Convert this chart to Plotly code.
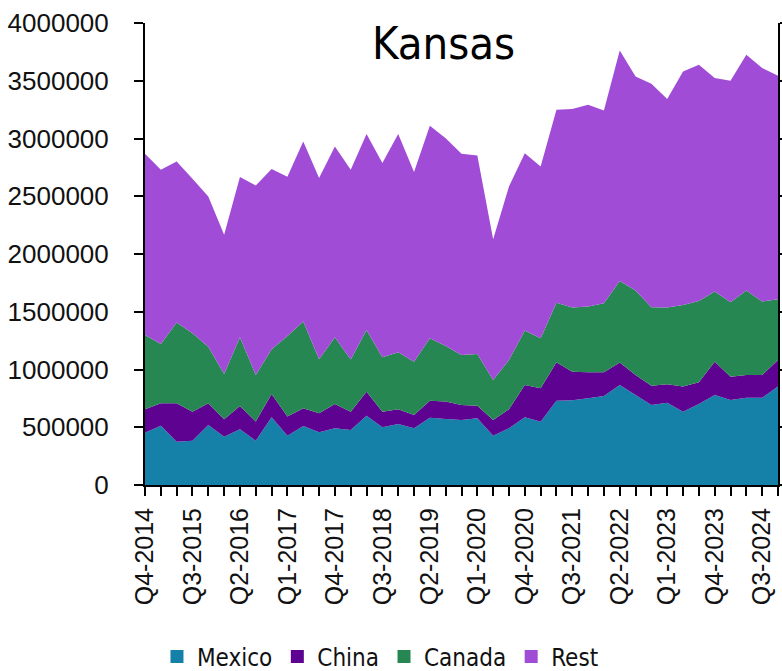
import plotly.graph_objects as go

# Quarterly exports by destination (USD)
quarters = [
    "Q4-2014", "Q1-2015", "Q2-2015", "Q3-2015", "Q4-2015",
    "Q1-2016", "Q2-2016", "Q3-2016", "Q4-2016",
    "Q1-2017", "Q2-2017", "Q3-2017", "Q4-2017",
    "Q1-2018", "Q2-2018", "Q3-2018", "Q4-2018",
    "Q1-2019", "Q2-2019", "Q3-2019", "Q4-2019",
    "Q1-2020", "Q2-2020", "Q3-2020", "Q4-2020",
    "Q1-2021", "Q2-2021", "Q3-2021", "Q4-2021",
    "Q1-2022", "Q2-2022", "Q3-2022", "Q4-2022",
    "Q1-2023", "Q2-2023", "Q3-2023", "Q4-2023",
    "Q1-2024", "Q2-2024", "Q3-2024", "Q4-2024",
]

mexico = [
    453000, 514000, 375000, 384000, 520000, 418000, 483000, 384000, 586000,
    427000, 511000, 457000, 491000, 476000, 600000, 500000, 528000, 491000,
    583000, 572000, 563000, 578000, 427000, 491000, 586000, 548000, 730000,
    733000, 751000, 771000, 866000, 780000, 693000, 713000, 635000, 702000,
    780000, 736000, 756000, 756000, 852000,
]
china = [
    203000, 194000, 333000, 251000, 188000, 151000, 201000, 165000, 202000,
    165000, 153000, 164000, 211000, 159000, 208000, 135000, 128000, 115000,
    147000, 150000, 130000, 109000, 136000, 165000, 280000, 290000, 333000,
    247000, 225000, 205000, 194000, 173000, 167000, 159000, 217000, 187000,
    288000, 202000, 197000, 197000, 231000,
]
canada = [
    643000, 513000, 698000, 679000, 490000, 393000, 595000, 404000, 388000,
    699000, 751000, 468000, 577000, 451000, 535000, 471000, 494000, 462000,
    541000, 482000, 433000, 448000, 347000, 427000, 471000, 433000, 516000,
    557000, 569000, 598000, 707000, 730000, 679000, 664000, 707000, 705000,
    607000, 645000, 730000, 635000, 526000,
]
rest = [
    1568000, 1508000, 1395000, 1337000, 1300000, 1204000, 1387000, 1640000,
    1559000, 1377000, 1559000, 1568000, 1652000, 1643000, 1695000, 1681000,
    1888000, 1641000, 1839000, 1799000, 1741000, 1718000, 1218000, 1501000,
    1536000, 1487000, 1670000, 1718000, 1747000, 1669000, 1995000, 1854000,
    1935000, 1805000, 2021000, 2044000, 1848000, 1917000, 2042000, 2022000,
    1934000,
]

series_names = ["Mexico", "China", "Canada", "Rest"]
series_values = [mexico, china, canada, rest]
series_colors = ["#1580A8", "#5E0391", "#278752", "#A04CD7"]

# every quarter gets a tick; every third quarter gets a label
tick_text = [q if i % 3 == 0 else "" for i, q in enumerate(quarters)]

condensed = "DejaVu Sans Condensed, Liberation Sans, sans-serif"
regular = "Liberation Sans, Arial, sans-serif"

fig = go.Figure()

for name, vals, col in zip(series_names, series_values, series_colors):
    fig.add_trace(go.Scatter(
        x=quarters, y=vals, name=name,
        mode="none", stackgroup="one",
        fillcolor=col, showlegend=False,
        legendgroup=name,
    ))

# square legend swatches
for name, col in zip(series_names, series_colors):
    fig.add_trace(go.Scatter(
        x=[None], y=[None], name=name, mode="markers",
        marker=dict(symbol="square", size=13, color=col),
        legendgroup=name, showlegend=True,
    ))

fig.update_layout(
    width=782, height=671,
    margin=dict(l=145, r=4, t=23, b=186, autoexpand=False),
    paper_bgcolor="white", plot_bgcolor="white",
    showlegend=True,
    legend=dict(
        orientation="h", x=0.372, xanchor="center",
        y=-0.372, yanchor="middle",
        font=dict(family=condensed, size=24, color="#111111"),
        itemwidth=30, tracegroupgap=0,
    ),
    annotations=[dict(
        text="Kansas", xref="paper", yref="paper",
        x=0.4708, y=1.018, xanchor="center", yanchor="top",
        showarrow=False,
        font=dict(family=condensed, size=45, color="black"),
    )],
)

fig.update_xaxes(
    type="category", range=[0, len(quarters) - 1],
    tickmode="array", tickvals=quarters, ticktext=tick_text,
    tickangle=-90, ticks="outside", ticklen=9, tickwidth=1.5,
    tickcolor="black", showline=True, linecolor="black", linewidth=2,
    showgrid=False, zeroline=False, mirror=False,
    tickfont=dict(family=regular, size=25, color="#111111"),
    ticklabelstandoff=2,
)
fig.update_yaxes(
    range=[0, 4000000], tickmode="linear", tick0=0, dtick=500000,
    tickformat="d", ticks="outside", ticklen=9, tickwidth=1.5,
    tickcolor="black", showline=True, linecolor="black", linewidth=2,
    mirror="ticks", showgrid=False, zeroline=False,
    tickfont=dict(family=regular, size=26, color="#111111"),
    ticklabelstandoff=20,
)

fig.write_html("out.html")
